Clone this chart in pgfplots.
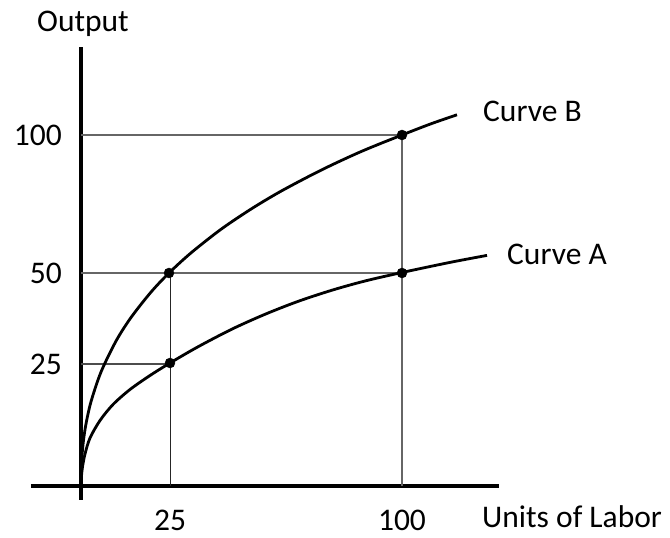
\documentclass[border=0pt]{standalone}
\usepackage{fontspec}
\setmainfont{Carlito}
\usepackage{pgfplots}
\pgfplotsset{compat=1.18}
\newcommand\bigf{\fontsize{31.5}{38}\selectfont}
\begin{document}
\begin{tikzpicture}
\begin{axis}[
  x=1pt, y=1pt,
  xmin=-50, xmax=418, ymin=-14, ymax=439,
  axis lines=middle,
  axis line style={-, line width=3.2pt, black},
  every inner x axis line/.append style={-},
  every inner y axis line/.append style={-},
  clip=false,
  xtick={89,321}, xticklabels={25,100},
  ytick={122,213,351}, yticklabels={25,50,100},
  major tick length=0pt,
  /pgf/number format/assume math mode=true,
  tick label style={font=\bigf, inner sep=0pt},
  xticklabel style={anchor=base, yshift=-45pt},
  yticklabel style={anchor=east, xshift=-19pt},
]
% guide lines
\addplot[line width=1.2pt, black!60] coordinates {(0,351) (321,351)};
\addplot[line width=1.2pt, black!60] coordinates {(0,213) (321,213)};
\addplot[line width=1.1pt, black!70] coordinates {(0,122) (89,122)};
\addplot[line width=1.0pt, black!85] coordinates {(89,0) (89,213)};
\addplot[line width=1.2pt, black!60] coordinates {(321,0) (321,351)};
% Curve B
\addplot[smooth, line width=2.8pt, black] coordinates {
  (0,0) (0.25,16.4) (1,30.4) (2.5,45.7) (5,62.1) (10,84.3) (20,114.0)
  (35,144.9) (50,168.5) (70,193.9) (88,213) (110,233.1) (140,256.7)
  (170,276.9) (200,294.8) (240,315.8) (280,334.4) (321,351) (350,362.2)
  (376,371.2)};
% Curve A
\addplot[smooth, line width=2.8pt, black] coordinates {
  (0,0) (0.4,9) (1.5,19) (4,32) (9,48) (19,65.5) (32,81.5) (49,96.5)
  (69,110.5) (89,123) (117,139.2) (151,156.9) (184,171.7) (217,184.6)
  (251,195.8) (284,205) (321,213.5) (369,223.6) (406,230.6)};
% points
\addplot[only marks, mark=*, mark size=5pt, black] coordinates {
  (88,213) (89,123) (321,351) (321,213)};
% labels
\node[anchor=base, font=\bigf, inner sep=0pt] at (axis cs:2,454) {Output};
\node[anchor=base west, font=\bigf, inner sep=0pt] at (axis cs:401,-42) {Units of Labor};
\node[anchor=base west, font=\bigf, inner sep=0pt] at (axis cs:402,364) {Curve B};
\node[anchor=base west, font=\bigf, inner sep=0pt] at (axis cs:426,221) {Curve A};
\coordinate (bbll) at (axis cs:-81,-52);
\coordinate (bbur) at (axis cs:589,486);
\end{axis}
\pgfresetboundingbox
\useasboundingbox (bbll) rectangle (bbur);
\end{tikzpicture}
\end{document}
